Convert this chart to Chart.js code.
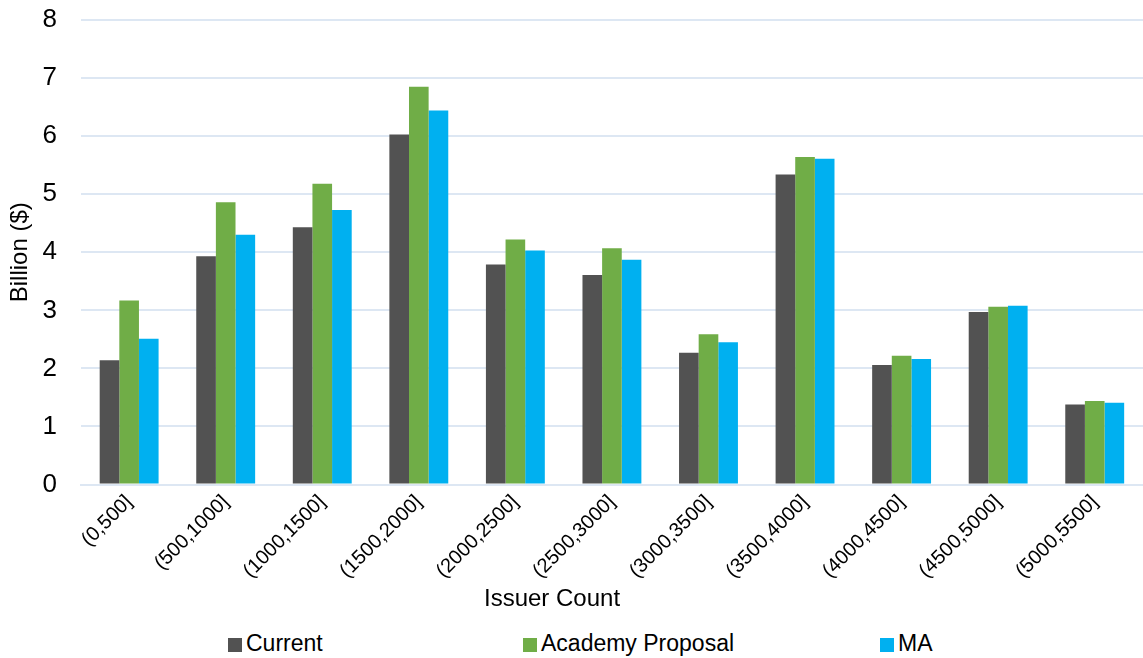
<!DOCTYPE html>
<html>
<head>
<meta charset="utf-8">
<script src="https://cdn.jsdelivr.net/npm/chart.js@4.4.1/dist/chart.umd.min.js"></script>
<style>
  html, body { margin: 0; padding: 0; background: #fff; }
  #wrap { position: relative; width: 1143px; height: 658px; font-family: "Liberation Sans", Arial, sans-serif; overflow: hidden; }
  #chart-box { position: absolute; left: 0; top: 0; width: 1143px; height: 589px; }
  #x-title { position: absolute; left: 484px; top: 586px; font-size: 24px; line-height: 24px; color: #000; white-space: nowrap; }
  .legend-item { position: absolute; top: 631px; font-size: 23px; color: #000; line-height: 24px; white-space: nowrap; }
  .legend-item span.swatch { display: inline-block; width: 14px; height: 14px; margin-right: 4px; vertical-align: -1px; }
</style>
</head>
<body>
<div id="wrap">
  <div id="chart-box"><canvas id="bar-chart"></canvas></div>
  <div id="x-title">Issuer Count</div>
  <div id="legend"></div>
</div>
<script>
// Issuer count buckets
const categories = ['(0,500]', '(500,1000]', '(1000,1500]', '(1500,2000]', '(2000,2500]',
    '(2500,3000]', '(3000,3500]', '(3500,4000]', '(4000,4500]', '(4500,5000]', '(5000,5500]'];

// Billion ($) per bucket
const currentValues = [2.14, 3.93, 4.43, 6.03, 3.79, 3.61, 2.27, 5.34, 2.06, 2.97, 1.38];
const academyValues = [3.17, 4.86, 5.18, 6.85, 4.22, 4.07, 2.59, 5.64, 2.22, 3.06, 1.44];
const maValues      = [2.51, 4.30, 4.73, 6.44, 4.03, 3.87, 2.45, 5.61, 2.16, 3.08, 1.41];

const yTicks = [0, 1, 2, 3, 4, 5, 6, 7, 8];

const seriesNames = ['Current', 'Academy Proposal', 'MA'];
const seriesColors = ['#525252', '#70ad47', '#00b0f0'];
const legendLeft = [228, 523, 880];

(function() {
    'use strict';

    const FONT = '"Liberation Sans", Arial, sans-serif';
    const gridColor = '#dde7f3';

    const seriesData = [currentValues, academyValues, maValues];
    const datasets = seriesNames.map((name, i) => ({
        label: name,
        data: seriesData[i],
        backgroundColor: seriesColors[i],
        borderWidth: 0,
        categoryPercentage: 0.61,
        barPercentage: 1.0
    }));

    const ctx = document.getElementById('bar-chart').getContext('2d');

    new Chart(ctx, {
        type: 'bar',
        data: {
            labels: categories,
            datasets: datasets
        },
        options: {
            responsive: true,
            maintainAspectRatio: false,
            animation: false,
            layout: {
                padding: 0
            },
            plugins: {
                legend: { display: false },
                tooltip: { enabled: false }
            },
            scales: {
                x: {
                    grid: { display: false, drawTicks: false },
                    border: { display: true, color: gridColor, width: 2 },
                    ticks: {
                        color: '#000',
                        font: { family: FONT, size: 20 },
                        minRotation: 45,
                        maxRotation: 45,
                        padding: 6
                    },
                    // rotated labels fit inside the plot, no extra room on the sides
                    afterFit: (scale) => {
                        scale.paddingLeft = 0;
                        scale.paddingRight = 0;
                    }
                },
                y: {
                    min: 0,
                    max: 8,
                    afterBuildTicks: (axis) => {
                        axis.ticks = yTicks.map(v => ({ value: v }));
                    },
                    // keep the top gridline close to the canvas edge
                    afterFit: (scale) => {
                        scale.paddingTop = 20;
                        scale.paddingBottom = 0;
                    },
                    grid: { color: gridColor, lineWidth: 2, drawTicks: false },
                    border: { display: false },
                    ticks: {
                        color: '#000',
                        font: { family: FONT, size: 26 },
                        padding: 24
                    },
                    title: {
                        display: true,
                        text: 'Billion ($)',
                        color: '#000',
                        font: { family: FONT, size: 24 },
                        padding: { top: 6, bottom: -16.4 }
                    }
                }
            }
        }
    });

    // Legend row under the chart
    const legend = document.getElementById('legend');
    seriesNames.forEach((name, i) => {
        const item = document.createElement('div');
        item.className = 'legend-item';
        item.style.left = legendLeft[i] + 'px';
        const swatch = document.createElement('span');
        swatch.className = 'swatch';
        swatch.style.background = seriesColors[i];
        item.appendChild(swatch);
        item.appendChild(document.createTextNode(name));
        legend.appendChild(item);
    });
})();
</script>
</body>
</html>
